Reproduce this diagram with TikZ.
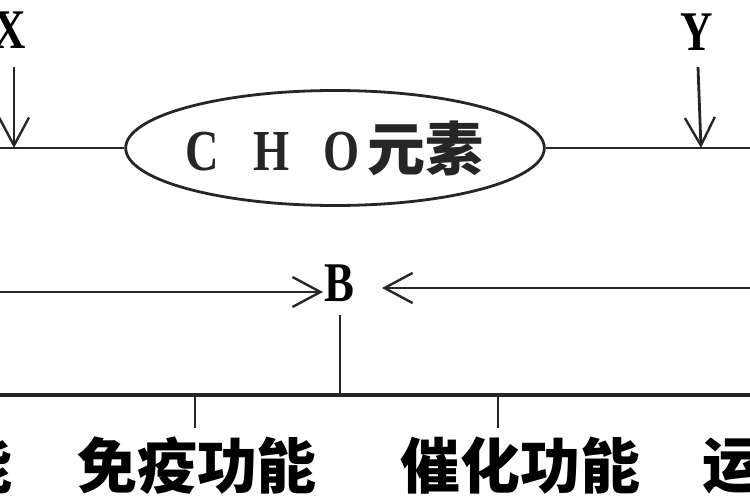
\documentclass[tikz,border=0pt]{standalone}
\usepackage{fontspec}
\setmainfont{Liberation Serif}
\newfontfamily\latb{Liberation Serif Bold}
\newfontfamily\cjk{Noto Sans CJK SC}
\usetikzlibrary{shapes.geometric,arrows.meta}
\newcommand{\myletter}[1]{\makebox[30pt]{\fontsize{58}{62}\latb\scalebox{0.8}[1]{#1}}}
\tikzset{
  ln/.style={line width=2.8pt, black!85},
  arr/.style={ln, -{Straight Barb[length=28pt,width=30pt,line width=2.4pt]}},
  lat/.style={font=\fontsize{56}{60}\latb, inner sep=0pt},
  han/.style={font=\fontsize{60}{64}\selectfont\cjk\bfseries, inner sep=0pt},
  oval/.style={ellipse, draw, ln, minimum width=415pt, minimum height=115pt, inner sep=0pt}
}
\begin{document}
\begin{tikzpicture}[x=1pt,y=-1pt]
\useasboundingbox (0,0) rectangle (750,500);
\clip (0,0) rectangle (750,500);
% top row
\node[lat] (X) at (10,30) {\scalebox{0.8}[1]{X}};
\node[lat] (Y) at (697,32) {\scalebox{0.8}[1]{Y}};
\node[oval] (cho) at (335,148) {\myletter{C}\hspace{40pt}\myletter{H}\hspace{40pt}\myletter{O}\hspace{10pt}{\fontsize{58}{62}\selectfont\cjk\bfseries 元素}\hspace{16pt}};
\coordinate (tl) at (-5,148);
\coordinate (tr) at (755,148);
\coordinate (xs) at (14,67);
\coordinate (xe) at (14,148);
\coordinate (ys) at (698,67);
\coordinate (ye) at (701,148);
\draw[ln] (tl) -- (cho.west);
\draw[ln] (cho.east) -- (tr);
\draw[arr] (xs) -- (xe);
\draw[arr] (ys) -- (ye);
% middle
\node[lat] (B) at (339,283) {\scalebox{0.8}[1]{B}};
\coordinate (la) at (-5,292);
\coordinate (lb) at (323,292);
\coordinate (ra) at (755,288);
\coordinate (rb) at (382,288);
\draw[arr] (la) -- (lb);
\draw[arr] (ra) -- (rb);
\coordinate (bs) at (340,315);
\coordinate (bj) at (340,395);
\draw[ln] (bs) -- (bj);
% bottom line
\coordinate (bl) at (-5,395);
\coordinate (br) at (755,395);
\draw[ln, line width=3.6pt] (bl) -- (br);
\coordinate (t1a) at (195,395);
\coordinate (t1b) at (195,428);
\coordinate (t2a) at (498,395);
\coordinate (t2b) at (498,428);
\draw[ln] (t1a) -- (t1b);
\draw[ln] (t2a) -- (t2b);
% labels
\node[han] (l0) at (-17,466) {能};
\node[han] (l1) at (197,466) {免疫功能};
\node[han] (l2) at (520,466) {催化功能};
\node[han] (l3) at (732,466) {运};
\end{tikzpicture}
\end{document}
